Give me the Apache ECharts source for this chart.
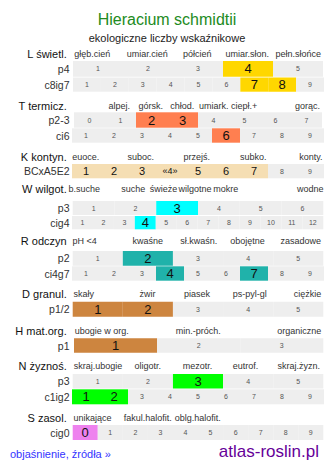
<!DOCTYPE html>
<html><head><meta charset="utf-8">
<script src="https://cdn.jsdelivr.net/npm/echarts@6/dist/echarts.min.js"></script>
<style>html,body{margin:0;padding:0;background:#fff}#c{width:334px;height:469px}</style>
</head><body><div id="c"></div>
<script>
// ---- data ----
const title = 'Hieracium schmidtii';
const subtitle = 'ekologiczne liczby wskaźnikowe';
const sectionNames = ['L świetl.', 'T termicz.', 'K kontyn.', 'W wilgot.', 'R odczyn', 'D granul.', 'H mat.org.', 'N żyznoś.', 'S zasol.'];
const L_labels = ['głęb.cień', 'umiar.cień', 'półcień', 'umiar.słon.', 'pełn.słońce'];
const T_labels = ['alpej.', 'górsk.', 'chłod.', 'umiark.', 'ciepł.+', 'gorąc.'];
const K_labels = ['euoce.', 'suboc.', 'przejś.', 'subko.', 'konty.'];
const W_labels = ['b.suche', 'suche', 'świeże', 'wilgotne', 'mokre', 'wodne'];
const R_labels = ['pH <4', 'kwaśne', 'sł.kwaśn.', 'obojętne', 'zasadowe'];
const D_labels = ['skały', 'żwir', 'piasek', 'ps-pyl-gl', 'ciężkie'];
const H_labels = ['ubogie w org.', 'min.-próch.', 'organiczne'];
const N_labels = ['skraj.ubogie', 'oligotr.', 'mezotr.', 'eutrof.', 'skraj.żyzn.'];
const S_labels = ['unikające', 'fakul.halofit.', 'oblg.halofit.'];

const subNames = ['p4', 'c8ig7', 'p2-3', 'ci6', 'BCxA5E2', 'p3', 'cig4', 'p2', 'ci4g7', 'p1/2', 'p1', 'p3', 'c1ig2', 'cig0'];
const cells_p5 = ['1', '2', '3', '4', '5'];
const cells_c9 = ['1', '2', '3', '4', '5', '6', '7', '8', '9'];
const cells_t8 = ['0', '1', '2', '3', '4', '5', '6', '7'];
const cells_k9 = ['1', '2', '3', '«4»', '5', '6', '7', '8', '9'];
const cells_w6 = ['1', '2', '3', '4', '5', '6'];
const cells_w12 = ['1', '2', '3', '4', '5', '6', '7', '8', '9', '10', '11', '12'];
const cells_h3 = ['1', '2', '3'];
const cells_s10 = ['0', '1', '2', '3', '4', '5', '6', '7', '8', '9'];
const rowCells = [cells_p5, cells_c9, cells_t8, cells_c9, cells_k9, cells_w6, cells_w12, cells_p5, cells_c9, cells_p5, cells_h3, cells_p5, cells_c9, cells_s10];
const L_p4 = ['4'];
const L_c8ig7 = ['7', '8'];
const T_p23 = ['2', '3'];
const T_ci6 = ['6'];
const K_bc = ['1', '2', '3', '«4»', '5', '6', '7'];
const W_p3 = ['3'];
const W_cig4 = ['4'];
const R_p2 = ['2'];
const R_ci4g7 = ['4', '7'];
const D_p12 = ['1', '2'];
const H_p1 = ['1'];
const N_p3 = ['3'];
const N_c1ig2 = ['1', '2'];
const S_cig0 = ['0'];
const rowHi = [L_p4, L_c8ig7, T_p23, T_ci6, K_bc, W_p3, W_cig4, R_p2, R_ci4g7, D_p12, H_p1, N_p3, N_c1ig2, S_cig0];

// ---- layout & style ----
const rowSection = [0, 0, 1, 1, 2, 3, 3, 4, 4, 5, 6, 7, 7, 8];
const sectionColors = ['#ffd700', '#ff7f50', '#f5deb3', '#00ffff', '#20b2aa', '#cd853f', '#cd853f', '#00ff00', '#ee82ee'];
// [left, right, top, bottom]
const rowBox = [
  [73, 323, 61, 76.7], [73, 324, 77.5, 91.7],
  [74, 322, 112.3, 127.7], [72, 324, 128.3, 142.7],
  [72, 324, 164, 178.3],
  [72.7, 323.3, 201, 215], [72, 323.3, 216, 229.3],
  [72.7, 323.3, 251, 265.7], [72, 324, 266.3, 280.7],
  [72.7, 323.3, 301.7, 316.7],
  [74, 323.3, 338.3, 352.7],
  [72.7, 323.3, 374, 388.6], [72, 324, 389.3, 404.3],
  [72.7, 323.3, 425, 440]
];
const sectionY = [53.5, 105.5, 157, 189, 241, 293.5, 331, 366, 417.5];
const catPos = [
  [92.2, 147.3, 197.3, 247.2, 298.3],
  [119.3, 150.8, 182.2, 213.7, 244.2, 307.5],
  [85.8, 140.8, 196.7, 253.2, 310.8],
  [84.2, 133.3, 163.5, 195, 225.8, 310.3],
  [84.7, 147.8, 198.7, 247.5, 300.8],
  [83.8, 147.5, 197, 249.7, 307.5],
  [101.7, 198.3, 299.2],
  [98, 147.8, 197.5, 245.5, 298.8],
  [92.5, 147.7, 197.8]
];
const catLabels = [L_labels, T_labels, K_labels, W_labels, R_labels, D_labels, H_labels, N_labels, S_labels];

const FONT = 'Liberation Sans, Arial, sans-serif';
const grids = [], xAxes = [], yAxes = [], series = [];
rowCells.forEach((cells, i) => {
  const b = rowBox[i];
  grids.push({left: b[0], top: b[2], width: b[1] - b[0], height: b[3] - b[2], containLabel: false});
  xAxes.push({type: 'category', gridIndex: i, data: cells, show: false, boundaryGap: true});
  yAxes.push({type: 'value', gridIndex: i, min: 0, max: 1, show: false});
  const col = sectionColors[rowSection[i]];
  const isK = rowSection[i] === 2;
  series.push({
    type: 'bar', xAxisIndex: i, yAxisIndex: i, barCategoryGap: '0%', silent: true, animation: false,
    data: cells.map(c => {
      const hi = rowHi[i].includes(c);
      return {
        value: 1,
        itemStyle: {color: hi ? col : '#eeeeee'},
        label: hi ? {fontSize: isK ? (c === '«4»' ? 9 : 11) : 13, color: '#111'} : {fontSize: 7, color: '#555'}
      };
    }),
    label: {show: true, position: 'inside', formatter: '{b}', fontFamily: FONT}
  });
});

const graphics = [];
graphics.push({type: 'text', x: 167, y: 19, style: {text: title, fill: '#228b22', font: '16px ' + FONT, textAlign: 'center', textVerticalAlign: 'middle'}});
graphics.push({type: 'text', x: 167, y: 38, style: {text: subtitle, fill: '#222', font: '11px ' + FONT, textAlign: 'center', textVerticalAlign: 'middle'}});
sectionNames.forEach((n, s) => {
  graphics.push({type: 'text', x: 66.7, y: sectionY[s], style: {text: n, fill: '#111', font: '11px ' + FONT, textAlign: 'right', textVerticalAlign: 'middle'}});
  catLabels[s].forEach((t, k) => {
    graphics.push({type: 'text', x: catPos[s][k], y: sectionY[s], style: {text: t, fill: '#333', font: '9px ' + FONT, textAlign: 'center', textVerticalAlign: 'middle'}});
  });
});
subNames.forEach((n, i) => {
  const b = rowBox[i];
  graphics.push({type: 'text', x: 69.5, y: (b[2] + b[3]) / 2, style: {text: n, fill: '#333', font: '10.5px ' + FONT, textAlign: 'right', textVerticalAlign: 'middle'}});
});
graphics.push({type: 'text', x: 10, y: 453.5, style: {text: 'objaśnienie, źródła »', fill: '#3333ff', font: '11px ' + FONT, textAlign: 'left', textVerticalAlign: 'middle'}});
graphics.push({type: 'text', x: 319, y: 451, style: {text: 'atlas-roslin.pl', fill: '#660099', font: '17px ' + FONT, textAlign: 'right', textVerticalAlign: 'middle'}});

const chart = echarts.init(document.getElementById('c'), null, {renderer: 'svg'});
chart.setOption({animation: false, grid: grids, xAxis: xAxes, yAxis: yAxes, series: series, graphic: graphics});
</script></body></html>
